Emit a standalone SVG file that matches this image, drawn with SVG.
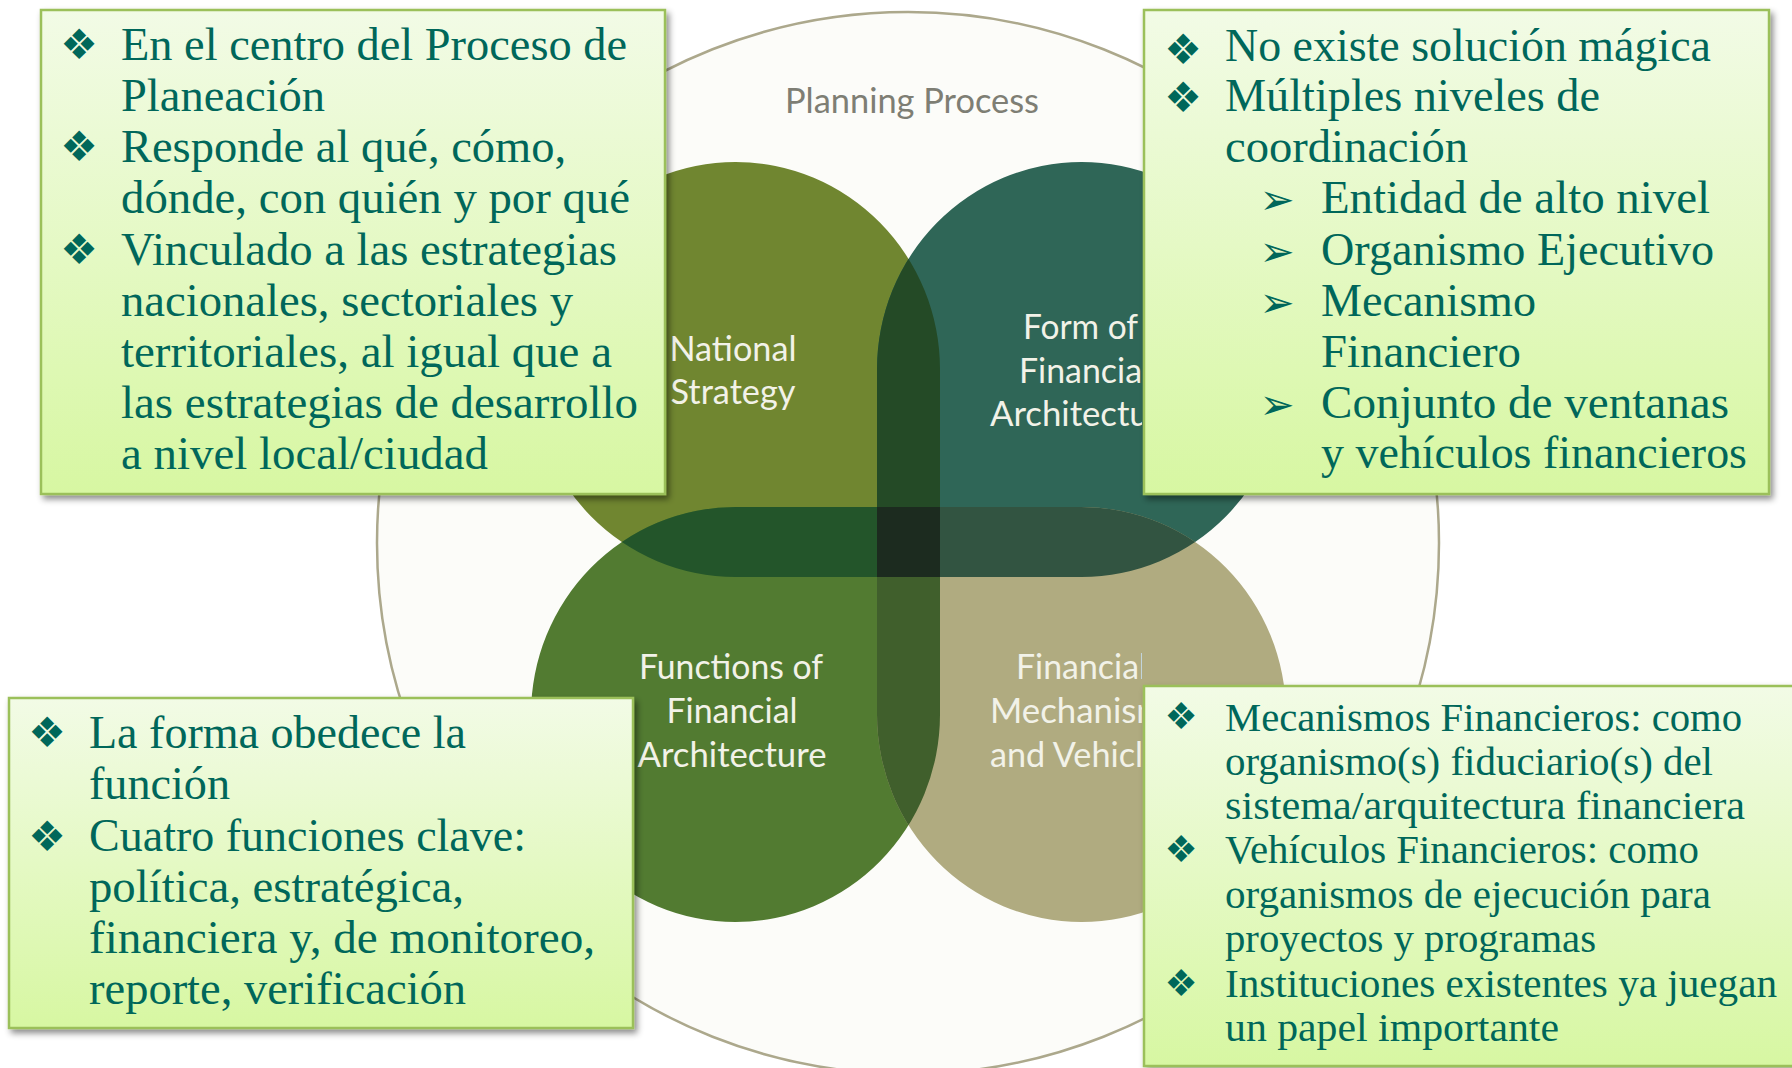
<svg xmlns="http://www.w3.org/2000/svg" width="1792" height="1068" viewBox="0 0 1792 1068">
<style>
.box{fill:url(#gBox);stroke:#9bc05a;stroke-width:2.5;filter:url(#sh)}
.t{font-family:"Liberation Serif",serif;font-size:46px;fill:#00675a}
.ts{font-family:"Liberation Serif",serif;font-size:40px;fill:#00675a}
.bul{font-family:"DejaVu Sans",sans-serif;font-size:42px;fill:#00675a;text-anchor:middle}
.buls{font-family:"DejaVu Sans",sans-serif;font-size:37px;fill:#00675a;text-anchor:middle}
.arr{font-family:"DejaVu Sans",sans-serif;font-size:42px;fill:#00675a;text-anchor:middle}
.lbl{font-family:Lato,"Open Sans",sans-serif;font-size:35px;fill:#f2f2e8;text-anchor:middle}
.lbls{font-family:Lato,"Open Sans",sans-serif;font-size:35px;fill:#f2f2e8}
</style>
<defs>
<linearGradient id="gBox" x1="0" y1="0" x2="0" y2="1">
<stop offset="0" stop-color="#f2fbe6"/>
<stop offset="1" stop-color="#d7f7a2"/>
</linearGradient>
<filter id="sh" x="-5%" y="-5%" width="115%" height="115%">
<feDropShadow dx="3" dy="4" stdDeviation="3" flood-color="#000" flood-opacity="0.45"/>
</filter>
<path id="pTL" d="M531 369.5 A204.5 207.5 0 0 1 940 369.5 L940 577 L735.5 577 A204.5 207.5 0 0 1 531 369.5 Z"/>
<path id="pTR" d="M877 577 L877 369.5 A204.5 207.5 0 0 1 1286 369.5 A204.5 207.5 0 0 1 1081.5 577 Z"/>
<path id="pBL" d="M940 507 L940 714.5 A204.5 207.5 0 0 1 735.5 922 A204.5 207.5 0 0 1 531 714.5 A204.5 207.5 0 0 1 735.5 507 Z"/>
<path id="pBR" d="M877 507 L1081.5 507 A204.5 207.5 0 0 1 1286 714.5 A204.5 207.5 0 0 1 1081.5 922 A204.5 207.5 0 0 1 877 714.5 Z"/>
<clipPath id="cTL"><use href="#pTL"/></clipPath>
<clipPath id="cTR"><use href="#pTR"/></clipPath>
<clipPath id="cBL"><use href="#pBL"/></clipPath>
<clipPath id="cVis"><rect x="0" y="0" width="1142" height="1068"/></clipPath>
</defs>
<rect width="1792" height="1068" fill="#ffffff"/>

<g id="planning-process">
<circle cx="908" cy="543" r="531" fill="#fcfcf9" stroke="#aca88c" stroke-width="2.5"/>
<text x="912" y="113" font-family="Lato,'Open Sans',sans-serif" font-size="34" fill="#7e7e74" text-anchor="middle" textLength="254" lengthAdjust="spacingAndGlyphs">Planning Process</text>
</g>

<g id="national-strategy">
<use href="#pTL" fill="#708630"/>
</g>
<g id="form-of-financial-architecture">
<use href="#pTR" fill="#2f6657"/>
</g>
<g id="functions-of-financial-architecture">
<use href="#pBL" fill="#527b31"/>
</g>
<g id="financial-mechanisms-and-vehicles">
<use href="#pBR" fill="#b0ab80"/>
</g>
<g id="overlaps">
<use href="#pTR" clip-path="url(#cTL)" fill="#244a26"/>
<use href="#pBL" clip-path="url(#cTL)" fill="#23552a"/>
<use href="#pBR" clip-path="url(#cTR)" fill="#325441"/>
<use href="#pBR" clip-path="url(#cBL)" fill="#405f2c"/>
<rect x="877" y="507" width="63" height="70" fill="#1c2b1f"/>
</g>
<g id="petal-labels">
<text class="lbl" x="733" y="361" textLength="127" lengthAdjust="spacingAndGlyphs">National</text>
<text class="lbl" x="733" y="404" textLength="125" lengthAdjust="spacingAndGlyphs">Strategy</text>
<text class="lbl" x="731" y="679" textLength="184" lengthAdjust="spacingAndGlyphs">Functions of</text>
<text class="lbl" x="732" y="723" textLength="131" lengthAdjust="spacingAndGlyphs">Financial</text>
<text class="lbl" x="732" y="767" textLength="189" lengthAdjust="spacingAndGlyphs">Architecture</text>
<g clip-path="url(#cVis)">
<text class="lbls" x="1023" y="339" textLength="115" lengthAdjust="spacingAndGlyphs">Form of</text>
<text class="lbls" x="1019" y="383" textLength="131" lengthAdjust="spacingAndGlyphs">Financial</text>
<text class="lbls" x="990" y="426" textLength="189" lengthAdjust="spacingAndGlyphs">Architecture</text>
<text class="lbls" x="1016" y="679" textLength="131" lengthAdjust="spacingAndGlyphs">Financial</text>
<text class="lbls" x="990" y="723" textLength="190" lengthAdjust="spacingAndGlyphs">Mechanisms</text>
<text class="lbls" x="990" y="767" textLength="186" lengthAdjust="spacingAndGlyphs">and Vehicles</text>
</g>
</g>

<g id="connectors"></g>

<g id="box-centro">
<rect class="box" x="41" y="10" width="624" height="484"/>
<text class="bul" x="79" y="59">❖</text>
<text class="bul" x="79" y="161">❖</text>
<text class="bul" x="79" y="264">❖</text>
<text class="t" x="121" y="60" textLength="506" lengthAdjust="spacingAndGlyphs">En el centro del Proceso de</text>
<text class="t" x="121" y="111" textLength="204" lengthAdjust="spacingAndGlyphs">Planeación</text>
<text class="t" x="121" y="162" textLength="445" lengthAdjust="spacingAndGlyphs">Responde al qué, cómo,</text>
<text class="t" x="121" y="213" textLength="509" lengthAdjust="spacingAndGlyphs">dónde, con quién y por qué</text>
<text class="t" x="121" y="265" textLength="496" lengthAdjust="spacingAndGlyphs">Vinculado a las estrategias</text>
<text class="t" x="121" y="316" textLength="452" lengthAdjust="spacingAndGlyphs">nacionales, sectoriales y</text>
<text class="t" x="121" y="367" textLength="491" lengthAdjust="spacingAndGlyphs">territoriales, al igual que a</text>
<text class="t" x="121" y="418" textLength="517" lengthAdjust="spacingAndGlyphs">las estrategias de desarrollo</text>
<text class="t" x="121" y="469" textLength="367" lengthAdjust="spacingAndGlyphs">a nivel local/ciudad</text>
</g>

<g id="box-coordinacion">
<rect class="box" x="1144" y="10" width="625" height="484"/>
<text class="bul" x="1183" y="64">❖</text>
<text class="bul" x="1183" y="112">❖</text>
<text class="arr" x="1277" y="214">➢</text>
<text class="arr" x="1277" y="266">➢</text>
<text class="arr" x="1277" y="317">➢</text>
<text class="arr" x="1277" y="419">➢</text>
<text class="t" x="1225" y="61" textLength="486" lengthAdjust="spacingAndGlyphs">No existe solución mágica</text>
<text class="t" x="1225" y="111" textLength="375" lengthAdjust="spacingAndGlyphs">Múltiples niveles de</text>
<text class="t" x="1225" y="162" textLength="243" lengthAdjust="spacingAndGlyphs">coordinación</text>
<text class="t" x="1321" y="213" textLength="389" lengthAdjust="spacingAndGlyphs">Entidad de alto nivel</text>
<text class="t" x="1321" y="265" textLength="393" lengthAdjust="spacingAndGlyphs">Organismo Ejecutivo</text>
<text class="t" x="1321" y="316" textLength="215" lengthAdjust="spacingAndGlyphs">Mecanismo</text>
<text class="t" x="1321" y="367" textLength="200" lengthAdjust="spacingAndGlyphs">Financiero</text>
<text class="t" x="1321" y="418" textLength="408" lengthAdjust="spacingAndGlyphs">Conjunto de ventanas</text>
<text class="t" x="1321" y="468" textLength="426" lengthAdjust="spacingAndGlyphs">y vehículos financieros</text>
</g>

<g id="box-funcion">
<rect class="box" x="9" y="698" width="624" height="330"/>
<text class="bul" x="47" y="747">❖</text>
<text class="bul" x="47" y="851">❖</text>
<text class="t" x="89" y="748" textLength="377" lengthAdjust="spacingAndGlyphs">La forma obedece la</text>
<text class="t" x="89" y="799" textLength="141" lengthAdjust="spacingAndGlyphs">función</text>
<text class="t" x="89" y="851" textLength="437" lengthAdjust="spacingAndGlyphs">Cuatro funciones clave:</text>
<text class="t" x="89" y="902" textLength="375" lengthAdjust="spacingAndGlyphs">política, estratégica,</text>
<text class="t" x="89" y="953" textLength="506" lengthAdjust="spacingAndGlyphs">financiera y, de monitoreo,</text>
<text class="t" x="89" y="1004" textLength="377" lengthAdjust="spacingAndGlyphs">reporte, verificación</text>
</g>

<g id="box-mecanismos">
<rect class="box" x="1144" y="686" width="660" height="380"/>
<text class="buls" x="1181" y="729">❖</text>
<text class="buls" x="1181" y="862">❖</text>
<text class="buls" x="1181" y="996">❖</text>
<text class="ts" x="1225" y="731" textLength="517" lengthAdjust="spacingAndGlyphs">Mecanismos Financieros: como</text>
<text class="ts" x="1225" y="775" textLength="488" lengthAdjust="spacingAndGlyphs">organismo(s) fiduciario(s) del</text>
<text class="ts" x="1225" y="819" textLength="520" lengthAdjust="spacingAndGlyphs">sistema/arquitectura financiera</text>
<text class="ts" x="1225" y="863" textLength="474" lengthAdjust="spacingAndGlyphs">Vehículos Financieros: como</text>
<text class="ts" x="1225" y="908" textLength="486" lengthAdjust="spacingAndGlyphs">organismos de ejecución para</text>
<text class="ts" x="1225" y="952" textLength="371" lengthAdjust="spacingAndGlyphs">proyectos y programas</text>
<text class="ts" x="1225" y="997" textLength="552" lengthAdjust="spacingAndGlyphs">Instituciones existentes ya juegan</text>
<text class="ts" x="1225" y="1041" textLength="334" lengthAdjust="spacingAndGlyphs">un papel importante</text>
</g>
</svg>
